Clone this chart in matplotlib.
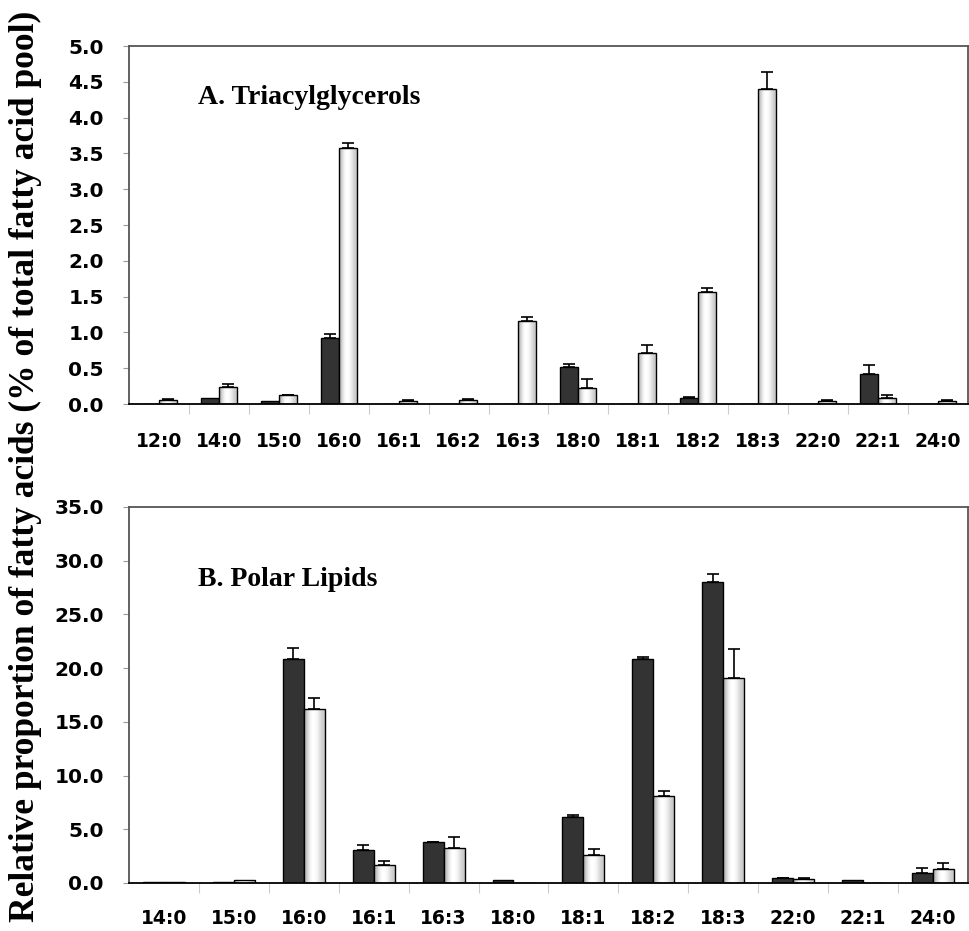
import numpy as np
import matplotlib.pyplot as plt

# A. Triacylglycerols
tag_cats = ['12:0', '14:0', '15:0', '16:0', '16:1', '16:2', '16:3',
            '18:0', '18:1', '18:2', '18:3', '22:0', '22:1', '24:0']
tag_dark = [0, 0.08, 0.04, 0.92, 0, 0, 0, 0.52, 0, 0.09, 0, 0, 0.42, 0]
tag_dark_err = [0, 0, 0, 0.06, 0, 0, 0, 0.04, 0, 0.01, 0, 0, 0.12, 0]
tag_light = [0.06, 0.24, 0.12, 3.58, 0.04, 0.06, 1.16, 0.23, 0.72, 1.56, 4.40, 0.04, 0.08, 0.04]
tag_light_err = [0.01, 0.04, 0.01, 0.07, 0.01, 0.01, 0.05, 0.12, 0.10, 0.06, 0.24, 0.01, 0.04, 0.01]

# B. Polar Lipids
pl_cats = ['14:0', '15:0', '16:0', '16:1', '16:3', '18:0',
           '18:1', '18:2', '18:3', '22:0', '22:1', '24:0']
pl_dark = [0.1, 0.1, 20.8, 3.1, 3.8, 0.25, 6.1, 20.8, 28.0, 0.44, 0.25, 0.93]
pl_dark_err = [0, 0, 1.1, 0.4, 0.05, 0, 0.2, 0.27, 0.8, 0.06, 0, 0.43]
pl_light = [0.1, 0.25, 16.2, 1.64, 3.26, 0, 2.57, 8.1, 19.05, 0.4, 0, 1.3]
pl_light_err = [0, 0, 1.0, 0.36, 1.04, 0, 0.63, 0.47, 2.7, 0.05, 0, 0.56]


def draw_panel(ax, cats, dark, dark_err, light, light_err, ymax, title, title_y, xpad):
    x = np.arange(len(cats))
    dark, dark_err = np.array(dark), np.array(dark_err)
    light, light_err = np.array(light), np.array(light_err)
    w = 0.3

    ax.bar(x - w / 2, dark, w, color='#333333', edgecolor='black', linewidth=1.0, zorder=2)
    bars = ax.bar(x + w / 2, light, w, color='none', edgecolor='black', linewidth=1.0, zorder=3)

    # shaded fill of the light bars (gray edges, white middle)
    grad = np.array([[0.70, 0.88, 1.0, 1.0, 0.96, 0.86, 0.78]])
    for rect in bars:
        if rect.get_height() <= 0:
            continue
        x0 = rect.get_x()
        im = ax.imshow(grad, cmap='gray', vmin=0, vmax=1, aspect='auto',
                       interpolation='bicubic', zorder=2.5,
                       extent=[x0, x0 + rect.get_width(), 0, rect.get_height()])
        im.set_clip_path(rect)

    m = (dark > 0) & (dark_err > 0)
    ax.errorbar(x[m] - w / 2, dark[m], yerr=[np.zeros(m.sum()), dark_err[m]], fmt='none',
                ecolor='black', elinewidth=1.2, capsize=4, capthick=1.2, zorder=4)
    m = (light > 0) & (light_err > 0)
    ax.errorbar(x[m] + w / 2, light[m], yerr=[np.zeros(m.sum()), light_err[m]], fmt='none',
                ecolor='black', elinewidth=1.2, capsize=4, capthick=1.2, zorder=4)

    ax.set_xlim(-0.5, len(cats) - 0.5)
    ax.set_ylim(0, ymax)
    ax.set_xticks(x)
    ax.set_xticklabels(cats, fontsize=13.5, fontweight='bold', family='DejaVu Sans')
    ax.tick_params(axis='x', which='major', length=0, pad=xpad)
    ax.set_xticks(np.arange(1, len(cats)) - 0.5, minor=True)
    ax.tick_params(axis='x', which='minor', length=7, color='#cccccc', width=0.8)
    ax.tick_params(axis='y', length=4, color='#999999', width=0.8, pad=14)
    ax.yaxis.set_major_formatter(plt.FormatStrFormatter('%.1f'))
    for lab in ax.get_yticklabels():
        lab.set_fontsize(14.5)
        lab.set_fontweight('bold')
        lab.set_family('DejaVu Sans')
    for s in ax.spines.values():
        s.set_color('#555555')
        s.set_linewidth(1.3)
    ax.spines['bottom'].set_color('black')
    ax.text(0.082, title_y, title, transform=ax.transAxes, va='center', ha='left',
            family='Liberation Serif', fontweight='bold', fontsize=20)


fig = plt.figure(figsize=(9.69, 9.31), dpi=100)

ax1 = fig.add_axes([0.1331, 0.566, 0.8658, 0.3845])
ax1.set_yticks(np.arange(0, 5.01, 0.5))
draw_panel(ax1, tag_cats, tag_dark, tag_dark_err, tag_light, tag_light_err,
           5.0, 'A. Triacylglycerols', 0.857, 20)

ax2 = fig.add_axes([0.1331, 0.0516, 0.8658, 0.4039])
ax2.set_yticks(np.arange(0, 35.01, 5))
draw_panel(ax2, pl_cats, pl_dark, pl_dark_err, pl_light, pl_light_err,
           35.0, 'B. Polar Lipids', 0.806, 19)

fig.text(0.026, 0.499, 'Relative proportion of fatty acids (% of total fatty acid pool)',
         rotation=90, va='center', ha='center', family='Liberation Serif',
         fontweight='bold', fontsize=25.5)

fig.savefig('out.png', dpi=100)
